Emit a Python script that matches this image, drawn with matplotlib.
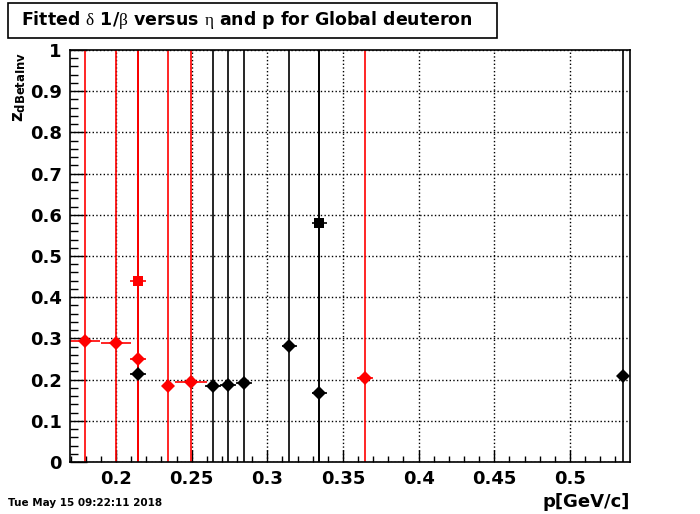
import numpy as np
import matplotlib
matplotlib.use('Agg')
import matplotlib.pyplot as plt
from matplotlib.patches import Rectangle
from matplotlib.ticker import MultipleLocator

plt.rcParams['font.family'] = 'DejaVu Sans'
plt.rcParams['mathtext.fontset'] = 'custom'
plt.rcParams['mathtext.it'] = 'Liberation Serif'
plt.rcParams['mathtext.rm'] = 'Liberation Serif'

# red series (diamonds)
red_p = [0.1795, 0.2000, 0.2145, 0.2344, 0.2496, 0.3646]
red_z = [0.294, 0.289, 0.250, 0.184, 0.194, 0.204]
red_pe = [0.010, 0.010, 0.005, 0.002, 0.0105, 0.005]
# red square
red_sq_p = [0.2145]
red_sq_z = [0.439]
red_sq_pe = [0.005]

# black series (diamonds)
blk_p = [0.2145, 0.2641, 0.2740, 0.2846, 0.3145, 0.3344, 0.5351]
blk_z = [0.214, 0.184, 0.187, 0.192, 0.282, 0.167, 0.209]
blk_pe = [0.005, 0.005, 0.005, 0.005, 0.005, 0.005, 0.004]
# black square
blk_sq_p = [0.3344]
blk_sq_z = [0.580]
blk_sq_pe = [0.005]

# z errors are much larger than the plotted range
z_err = 1.5

fig = plt.figure(figsize=(7, 5.14), dpi=100)
ax = fig.add_axes([0.1, 0.1012, 0.8, 0.8015])

def draw(p, z, pe, color, marker, ms):
    ax.errorbar(p, z, xerr=pe, yerr=[z_err] * len(p), fmt=marker, color=color,
                ms=ms, elinewidth=1.2, capsize=0, markeredgewidth=0)

draw(blk_p, blk_z, blk_pe, 'black', 'D', 7.5)
draw(blk_sq_p, blk_sq_z, blk_sq_pe, 'black', 's', 7.5)
draw(red_p, red_z, red_pe, 'red', 'D', 7.5)
draw(red_sq_p, red_sq_z, red_sq_pe, 'red', 's', 7.5)

ax.set_xlim(0.1696, 0.5397)
ax.set_ylim(0, 1)
ax.xaxis.set_major_locator(MultipleLocator(0.05))
ax.xaxis.set_minor_locator(MultipleLocator(0.01))
ax.yaxis.set_major_locator(MultipleLocator(0.1))
ax.yaxis.set_minor_locator(MultipleLocator(0.02))
ax.set_xticks([0.2, 0.25, 0.3, 0.35, 0.4, 0.45, 0.5])
ax.set_xticklabels(['0.2', '0.25', '0.3', '0.35', '0.4', '0.45', '0.5'])
ax.set_yticks(np.round(np.arange(0, 1.01, 0.1), 1))
ax.set_yticklabels(['0'] + ['%.1f' % v for v in np.arange(0.1, 0.95, 0.1)] + ['1'])

ax.grid(True, which='major', linestyle=':', color='black', linewidth=1)
ax.tick_params(axis='x', which='major', direction='in', length=8.6, width=1, labelsize=13, pad=6)
ax.tick_params(axis='x', which='minor', direction='in', length=4.3, width=1)
ax.tick_params(axis='y', which='major', direction='in', length=12, width=1, labelsize=13, pad=6)
ax.tick_params(axis='y', which='minor', direction='in', length=6, width=1)
for lab in ax.get_xticklabels() + ax.get_yticklabels():
    lab.set_fontweight('bold')
for s in ax.spines.values():
    s.set_linewidth(1.2)

fig.text(630 / 700, 1 - 502 / 514, 'p[GeV/c]', ha='right', va='center',
         fontsize=13, fontweight='bold')
fig.text(19 / 700, 1 - 52 / 514, r'z$_{\mathbf{dBetaInv}}$', rotation=90,
         ha='center', va='top', fontsize=12, fontweight='bold')

fig.text(8 / 700, 1 - 503 / 514, 'Tue May 15 09:22:11 2018', ha='left', va='center',
         fontsize=7.5, fontweight='bold')

fig.patches.append(Rectangle((8 / 700, 1 - 38 / 514), 489 / 700, 35 / 514,
                             transform=fig.transFigure, facecolor='white',
                             edgecolor='black', linewidth=1.2))
fig.text(21 / 700, 1 - 20 / 514,
         r'Fitted $\delta$ 1/$\beta$ versus $\eta$ and p for Global deuteron',
         ha='left', va='center', fontsize=12.5, fontweight='bold')

fig.savefig('out.png', dpi=100)
